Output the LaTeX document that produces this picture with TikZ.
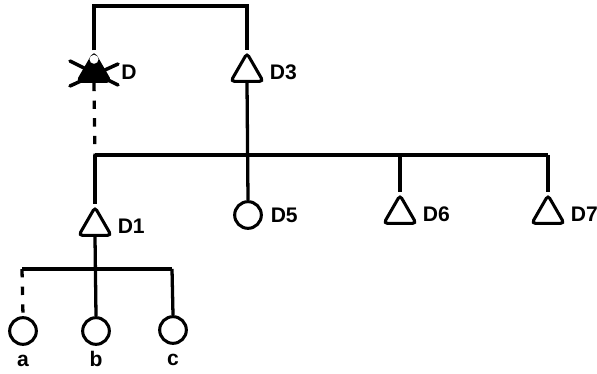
\documentclass[tikz,border=0pt]{standalone}
\usepackage{fontspec}
\setsansfont{Liberation Sans}
\usetikzlibrary{shapes.geometric, calc}

\begin{document}
\begin{tikzpicture}[
  x=0.03cm, y=-0.03cm,
  line width=2.8pt,
  lbl/.style    = {font=\sffamily\bfseries\fontsize{18}{20}\selectfont},
  kid/.style    = {lbl, text height=1.4ex, text depth=0pt, inner sep=1pt,
                   label distance=0.33cm},
  male/.style   = {regular polygon, regular polygon sides=3, draw,
                   line width=2.6pt, rounded corners=3pt, inner sep=0pt,
                   minimum size=1.12cm},
  female/.style = {circle, draw, line width=2.6pt, inner sep=0pt,
                   minimum size=0.8cm},
  link/.style   = {line width=2.8pt},
  gap/.style    = {line width=2.8pt, dash pattern=on 0.25cm off 0.28cm},
  burst/.style  = {line width=3pt, line cap=round},
]
\useasboundingbox (0,0) rectangle (597,374);
% first generation
\node[male, fill=black, label={[lbl, label distance=8pt]right:D}]  (D)  at (94,72)  {};
\node[male, label={[lbl, label distance=4pt]right:D3}]             (D3) at (247,72) {};
\fill[white] ($(D.north)+(0,9)$) circle (4.5);
\draw[burst] ($(D)+(-24,-11)$) -- ($(D)+(24,13)$);
\draw[burst] ($(D)+(-24,14)$) -- ($(D)+(24,-8)$);
\coordinate (tl) at (94,6);
\coordinate (tr) at (247,6);
\draw[link] (D.north) -- (tl) -- (tr) -- (D3.north);
% second generation
\coordinate (j1) at (95,155);
\coordinate (j3) at (400,155);
\coordinate (j4) at (548,155);
\node[male, label={[lbl, label distance=4pt]right:D1}]   (D1) at (95,226)  {};
\node[female, label={[lbl, label distance=2pt]right:D5}] (D5) at (248,215) {};
\node[male, label={[lbl, label distance=4pt]right:D6}]   (D6) at (400,214) {};
\node[male, label={[lbl, label distance=4pt]right:D7}]   (D7) at (548,214) {};
\draw[gap]  (D.south) -- (j1);
\draw[link] (j1) -- (j4);
\draw[link] (D3.south) -- (D5.north);
\draw[link] (j3) -- (D6.north);
\draw[link] (j4) -- (D7.north);
\draw[link] (j1) -- (D1.north);
% third generation
\coordinate (ja) at (22,269);
\coordinate (jc) at (172,269);
\node[female, label={[kid]below:a}] (a) at (23,331)  {};
\node[female, label={[kid]below:b}] (b) at (96,331)  {};
\node[female, label={[kid]below:c}] (c) at (173,330) {};
\draw[link] (ja) -- (jc);
\draw[gap]  (ja) -- (a.north);
\draw[link] (D1.south) -- (b.north);
\draw[link] (jc) -- (c.north);
\end{tikzpicture}
\end{document}
